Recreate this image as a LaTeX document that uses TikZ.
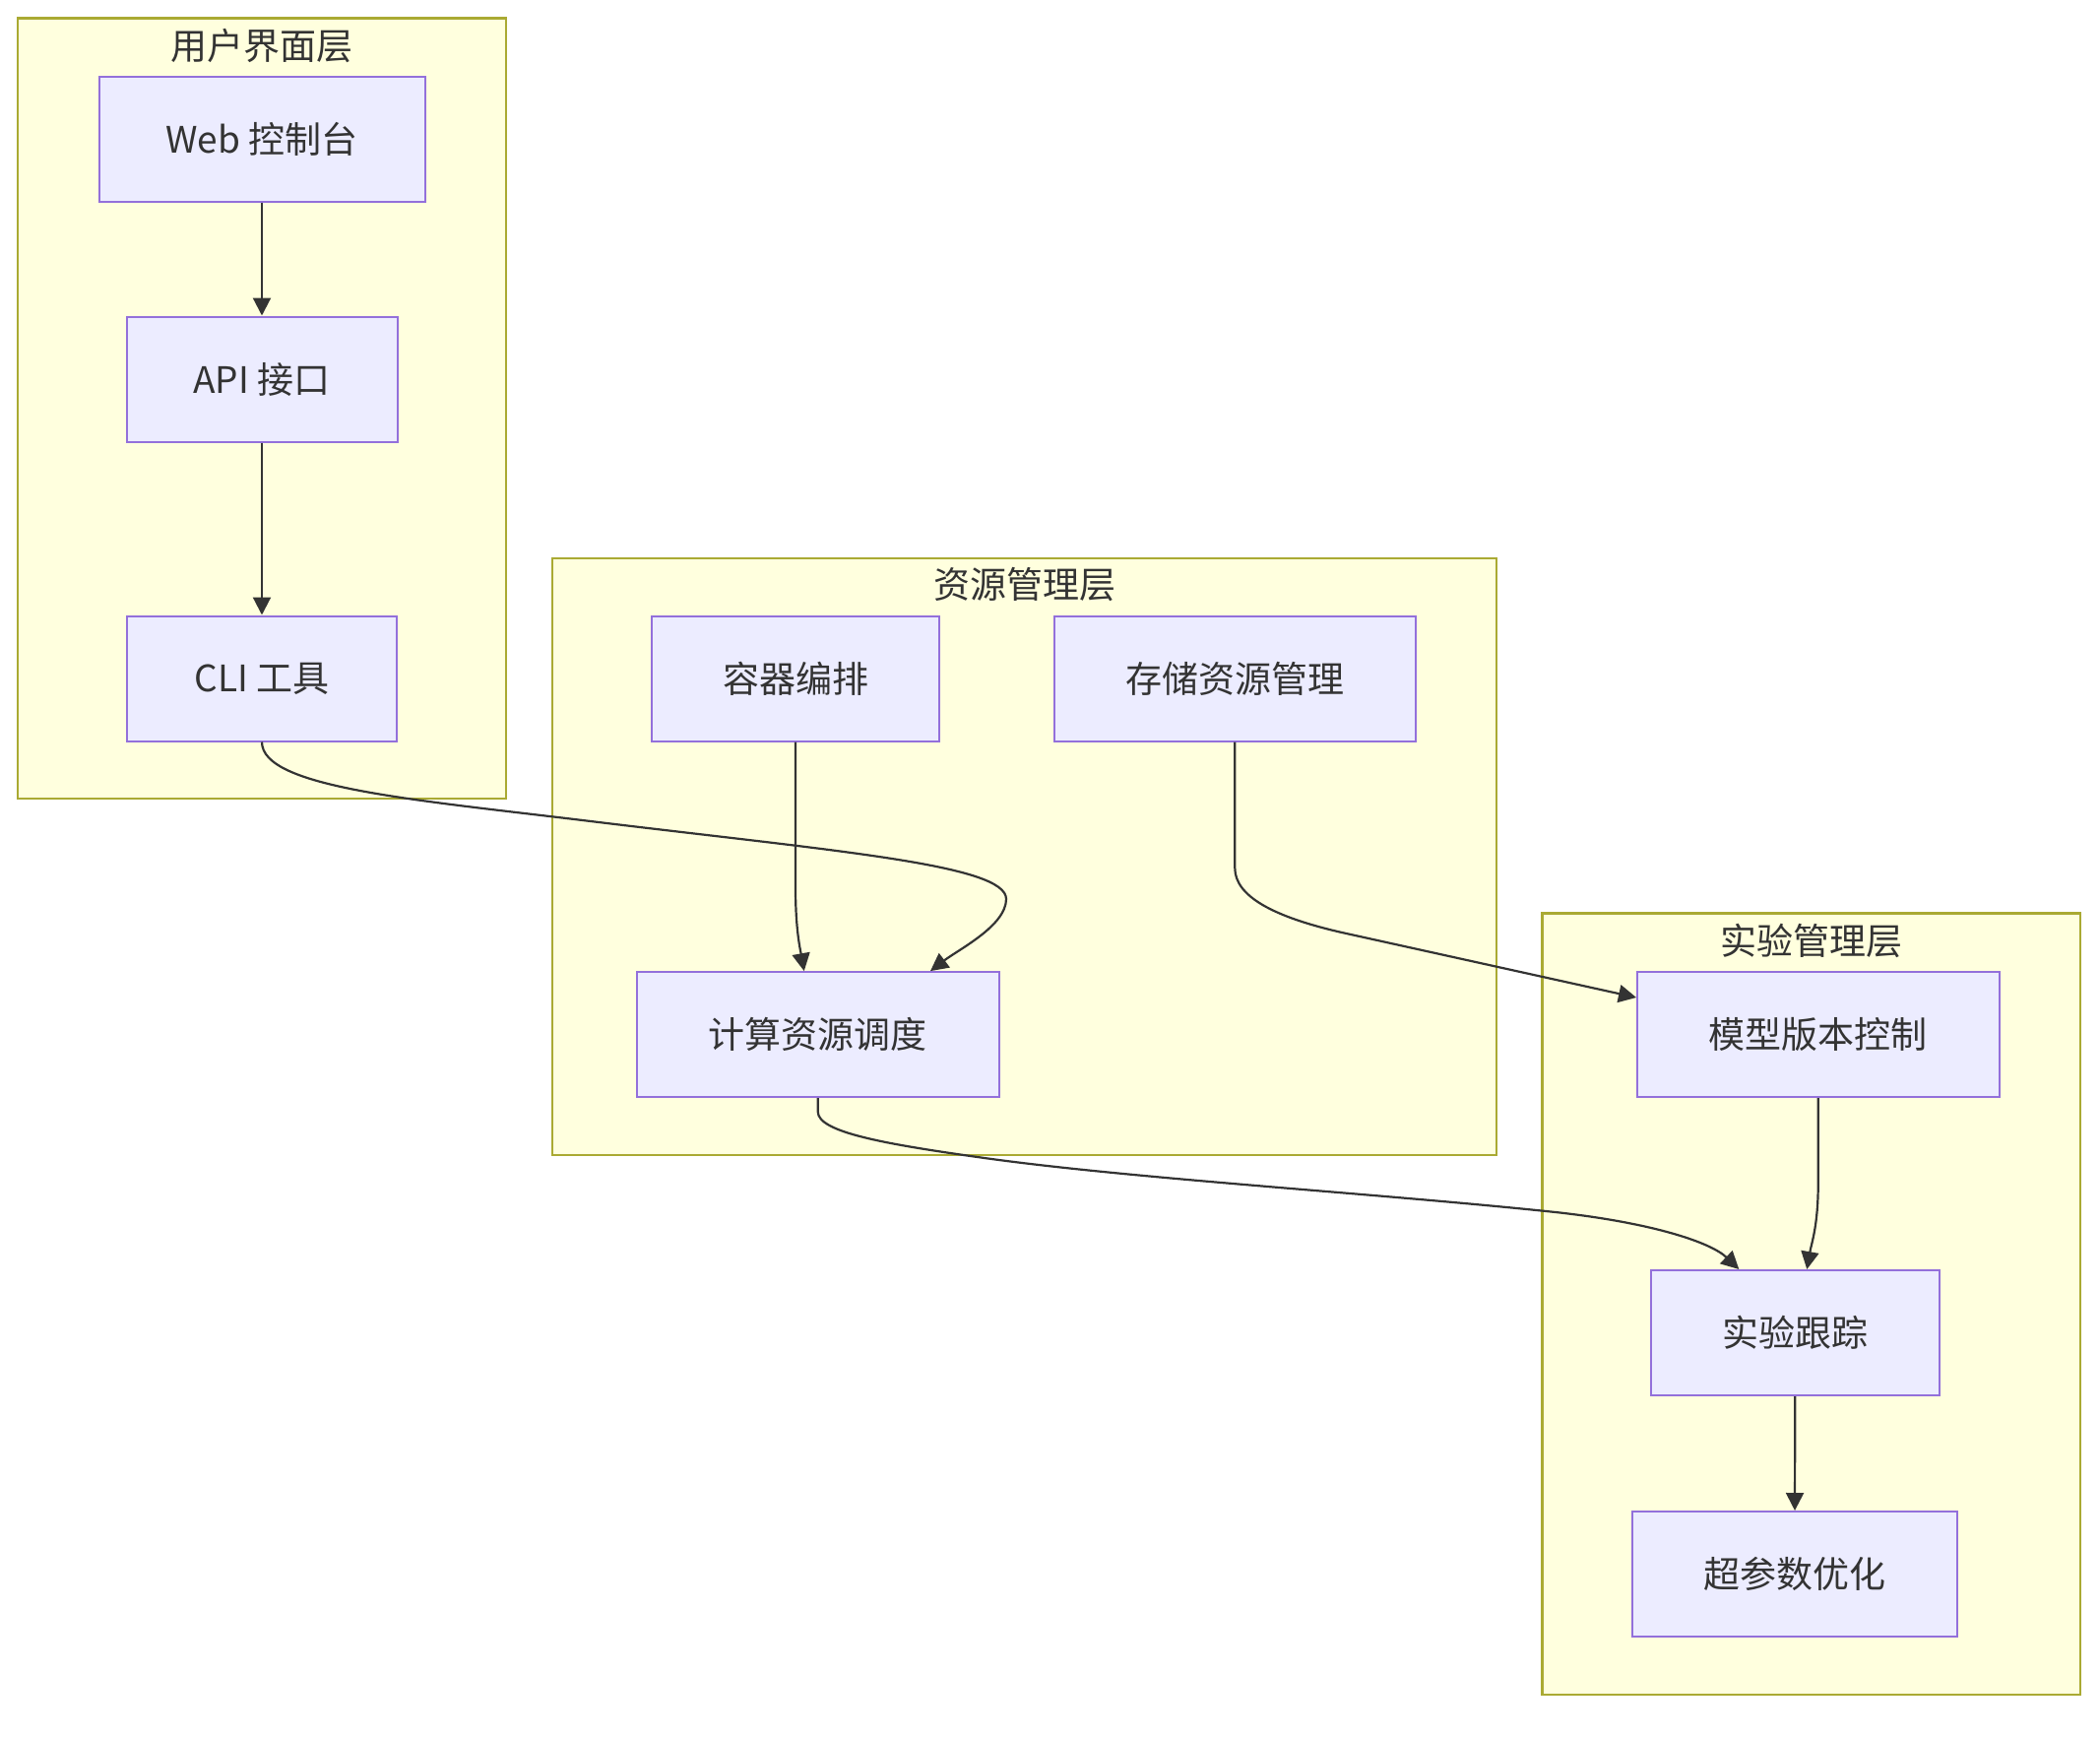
\documentclass[tikz,border=0pt]{standalone}
\usepackage{fontspec}
\setmainfont{Noto Sans CJK SC}
\usetikzlibrary{calc,arrows.meta}
\definecolor{nodefill}{HTML}{ECECFF}
\definecolor{nodeline}{HTML}{9370DB}
\definecolor{grpfill}{HTML}{FFFFDE}
\definecolor{grpline}{HTML}{AAAA33}
\definecolor{ink}{HTML}{333333}
\tikzset{
  box/.style={draw=nodeline, fill=nodefill, line width=2pt, minimum height=127pt, inner sep=0pt, text=ink,
    font=\fontsize{37}{44}\selectfont},
  grp/.style={draw=grpline, fill=grpfill, line width=2.2pt, inner sep=0pt},
  grptitle/.style={text=ink, inner sep=0pt, font=\fontsize{37}{44}\selectfont},
  conn/.style={draw=ink, line width=2.2pt, -{Triangle[length=18pt,width=18pt]}}
}
\begin{document}
\begin{tikzpicture}[x=1pt,y=-1pt]
\useasboundingbox[fill=white] (0,0) rectangle (2133,1764);
% groups
\node[grp, minimum width=496pt, minimum height=792.5pt] (g1) at (266,414.75) {};
\node[grp, minimum width=959pt, minimum height=606pt] (g2) at (1040.5,869.6) {};
\node[grp, minimum width=546.5pt, minimum height=793.5pt] (g3) at (1839.75,1324.25) {};
\node[grptitle] (t1) at (266,46.5) {用户界面层};
\node[grptitle] (t2) at (1040.5,594) {资源管理层};
\node[grptitle] (t3) at (1839.75,955) {实验管理层};
% nodes
\node[box, minimum width=331pt] (web) at (266,141) {Web 控制台};
\node[box, minimum width=275pt] (api) at (266,385) {API 接口};
\node[box, minimum width=273.5pt] (cli) at (266,689) {CLI 工具};
\node[box, minimum width=292pt] (cont) at (808,689) {容器编排};
\node[box, minimum width=367.4pt] (stor) at (1254.3,689) {存储资源管理};
\node[box, minimum width=367.5pt] (calc) at (830.75,1050.6) {计算资源调度};
\node[box, minimum width=367.5pt] (model) at (1846.75,1050.5) {模型版本控制};
\node[box, minimum width=292.6pt] (track) at (1823.3,1353.5) {实验跟踪};
\node[box, minimum width=330pt] (hyper) at (1823,1598.5) {超参数优化};
% edges
\draw[conn] (web.south) -- (api.north);
\draw[conn] (api.south) -- (cli.north);
\draw[conn] (cli.south) .. controls (266,800) and (420,812) .. (600,834)
  .. controls (850,864.5) and (1022,878) .. (1022,913)
  .. controls (1022,940) and (974,964) .. ($(calc.north)+(114.25,0)$);
\draw[conn] (cont.south) -- ($(cont.south)+(0,148)$) .. controls (808,945) and (813,965) .. ($(calc.north)+(-14,0)$);
\draw[conn] (stor.south) -- ($(stor.south)+(0,128)$) .. controls (1254.3,910) and (1293,931) .. (1363,947)
  -- ($(model.west)+(0,-37.5)$);
\draw[conn] (calc.south) -- ($(calc.south)+(0,14)$) .. controls (830.75,1150) and (900,1162) .. (1000,1176)
  .. controls (1150,1197) and (1400,1212) .. (1580,1231)
  .. controls (1680,1242) and (1738,1262) .. ($(track.north)+(-57,0)$);
\draw[conn] (model.south) -- ($(model.south)+(0,86)$) .. controls (1846.75,1245) and (1840,1262) .. ($(track.north)+(12,0)$);
\draw[conn] (track.south) -- (hyper.north);
\end{tikzpicture}
\end{document}
